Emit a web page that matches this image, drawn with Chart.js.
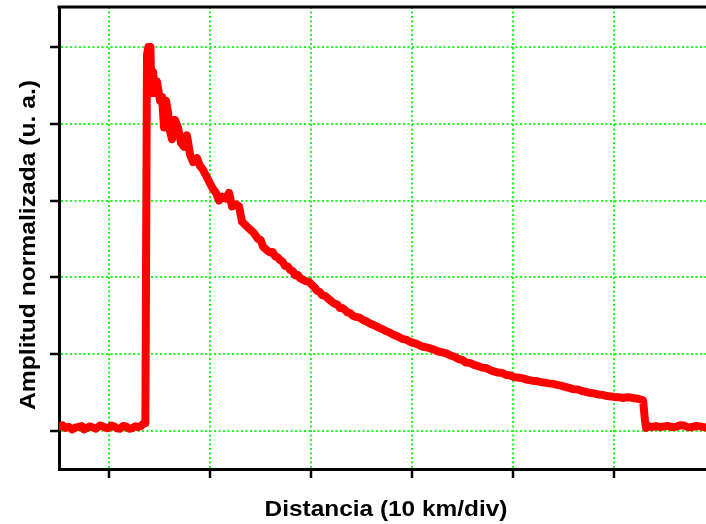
<!DOCTYPE html>
<html>
<head>
<meta charset="utf-8">
<script src="https://cdn.jsdelivr.net/npm/chart.js@4/dist/chart.umd.min.js"></script>
<style>
  html, body { margin: 0; padding: 0; background: #fff; }
  #wrap { width: 706px; height: 524px; }
</style>
</head>
<body>
<div id="wrap"><canvas id="trace" width="706" height="524"></canvas></div>
<script>
// distance in km (10 km per division), amplitude normalised to the peak
const distanceKm = [
  -4.95, -4.60, -4.36, -4.00, -3.66, -3.30, -3.07, -2.70, -2.48, -2.10,
  -1.88, -1.50, -1.29, -0.90, -0.69, -0.30, -0.10, 0.25, 0.50, 0.80,
  1.09, 1.40, 1.68, 2.00, 2.28, 2.60, 2.87, 3.15, 3.37, 3.60,
  3.76, 3.90, 4.10, 4.20, 4.36, 4.55, 4.75, 5.05, 5.25, 5.45,
  5.64, 5.84, 6.04, 6.24, 6.53, 6.83, 7.13, 7.43, 7.72, 8.02,
  8.32, 8.71, 9.01, 9.31, 9.70, 10.00, 10.30, 10.59, 10.89, 11.19,
  11.58, 11.88, 12.18, 12.57, 12.87, 13.17, 13.56, 13.96, 14.36, 14.75,
  15.00, 15.25, 15.64, 15.94, 16.20, 16.44, 16.70, 16.93, 17.20, 17.43,
  17.70, 17.92, 18.20, 18.42, 18.70, 18.91, 19.20, 19.50, 19.80, 20.10,
  20.35, 20.59, 20.85, 21.09, 21.40, 21.68, 22.00, 22.28, 22.60, 22.87,
  23.10, 23.37, 23.60, 23.86, 24.15, 24.46, 24.80, 25.15, 25.50, 25.84,
  26.20, 26.63, 27.00, 27.43, 27.80, 28.22, 28.60, 29.01, 29.40, 29.80,
  30.20, 30.59, 31.00, 31.39, 31.80, 32.18, 32.60, 32.97, 33.40, 33.76,
  34.15, 34.55, 34.95, 35.35, 35.75, 36.14, 36.55, 36.93, 37.30, 37.72,
  38.10, 38.51, 38.90, 39.31, 39.70, 40.10, 40.55, 40.99, 41.45, 41.88,
  42.25, 42.67, 43.10, 43.56, 43.95, 44.36, 44.75, 45.15, 45.55, 45.94,
  46.40, 46.83, 47.20, 47.62, 48.00, 48.42, 48.85, 49.31, 49.70, 50.10,
  50.50, 50.89, 51.30, 51.68, 52.00, 52.38, 52.87, 53.05, 53.17, 53.50,
  53.76, 54.15, 54.55, 54.95, 55.35, 55.75, 56.14, 56.55, 56.93, 57.30,
  57.72, 58.10, 58.51, 59.10
];
const amplitude = [
  0.012, 0.015, 0.008, 0.011, 0.004, 0.009, 0.010, 0.013, 0.004, 0.009,
  0.012, 0.008, 0.006, 0.014, 0.013, 0.008, 0.007, 0.014, 0.012, 0.007,
  0.006, 0.013, 0.012, 0.006, 0.007, 0.012, 0.010, 0.013, 0.018, 0.020,
  0.980, 1.000, 1.000, 0.880, 0.935, 0.880, 0.910, 0.860, 0.870, 0.790,
  0.860, 0.830, 0.780, 0.760, 0.810, 0.790, 0.750, 0.740, 0.770, 0.720,
  0.700, 0.710, 0.690, 0.680, 0.660, 0.645, 0.630, 0.620, 0.600, 0.610,
  0.605, 0.620, 0.585, 0.590, 0.585, 0.545, 0.535, 0.525, 0.515, 0.500,
  0.498, 0.480, 0.470, 0.465, 0.466, 0.455, 0.452, 0.445, 0.440, 0.430,
  0.428, 0.420, 0.416, 0.405, 0.406, 0.398, 0.394, 0.390, 0.388, 0.380,
  0.374, 0.365, 0.362, 0.354, 0.352, 0.345, 0.338, 0.332, 0.329, 0.320,
  0.320, 0.315, 0.309, 0.307, 0.300, 0.297, 0.295, 0.289, 0.285, 0.280,
  0.276, 0.270, 0.266, 0.260, 0.256, 0.250, 0.246, 0.240, 0.238, 0.232,
  0.229, 0.225, 0.220, 0.218, 0.215, 0.212, 0.207, 0.205, 0.202, 0.197,
  0.194, 0.188, 0.185, 0.178, 0.177, 0.172, 0.169, 0.165, 0.164, 0.159,
  0.155, 0.152, 0.151, 0.146, 0.145, 0.140, 0.139, 0.137, 0.133, 0.131,
  0.130, 0.128, 0.126, 0.124, 0.123, 0.120, 0.118, 0.115, 0.112, 0.109,
  0.108, 0.104, 0.102, 0.099, 0.098, 0.095, 0.094, 0.091, 0.090, 0.088,
  0.088, 0.086, 0.088, 0.087, 0.085, 0.084, 0.080, 0.030, 0.008, 0.012,
  0.010, 0.013, 0.010, 0.012, 0.013, 0.010, 0.011, 0.015, 0.014, 0.010,
  0.010, 0.013, 0.012, 0.009
];
const xTicks = [0, 10, 20, 30, 40, 50];
const yTicks = [0, 0.2, 0.4, 0.6, 0.8, 1.0];
const xTitle = 'Distancia (10 km/div)';
const yTitle = 'Amplitud normalizada (u. a.)';

const TITLE_FONT = 'bold 22px "Liberation Sans", Arial, sans-serif';

// axis titles drawn by hand: the original lettering is a bit wider than Arial
const axisTitles = {
  id: 'axisTitles',
  afterDraw(chart) {
    const ctx = chart.ctx;
    const area = chart.chartArea;
    ctx.save();
    ctx.fillStyle = '#000';
    ctx.font = TITLE_FONT;
    ctx.textAlign = 'center';
    ctx.textBaseline = 'alphabetic';
    ctx.translate(386, 516);
    ctx.scale(1.11, 1);
    ctx.fillText(xTitle, 0, 0);
    ctx.restore();

    ctx.save();
    ctx.fillStyle = '#000';
    ctx.font = TITLE_FONT;
    ctx.textAlign = 'center';
    ctx.textBaseline = 'alphabetic';
    ctx.translate(35, 245);
    ctx.rotate(-Math.PI / 2);
    ctx.scale(1.12, 1);
    ctx.fillText(yTitle, 0, 0);
    ctx.restore();

    // top frame line
    ctx.save();
    ctx.strokeStyle = '#000';
    ctx.lineWidth = 3;
    ctx.beginPath();
    ctx.moveTo(area.left - 1.5, area.top);
    ctx.lineTo(chart.width, area.top);
    ctx.stroke();
    ctx.restore();
  }
};

const gridOpts = {
  color: '#22f522',
  lineWidth: 2,
  tickColor: '#000',
  tickWidth: 2.5,
  tickLength: 9,
  tickBorderDash: []
};

new Chart(document.getElementById('trace'), {
  type: 'line',
  data: {
    datasets: [{
      data: distanceKm.map((x, i) => ({ x, y: amplitude[i] })),
      borderColor: '#ff0000',
      borderWidth: 8,
      pointRadius: 0,
      tension: 0,
      borderJoinStyle: 'round',
      borderCapStyle: 'round'
    }]
  },
  options: {
    responsive: false,
    animation: false,
    events: [],
    layout: { autoPadding: false, padding: { top: 7, right: 0, bottom: 0, left: 0 } },
    plugins: { legend: { display: false }, tooltip: { enabled: false } },
    scales: {
      x: {
        type: 'linear',
        min: -4.95,
        max: 59.1,
        afterBuildTicks: s => { s.ticks = xTicks.map(v => ({ value: v })); },
        afterFit: s => { s.height = 55; },
        ticks: { display: false },
        grid: gridOpts,
        border: { display: true, color: '#000', width: 3, dash: [2, 2.5] }
      },
      y: {
        type: 'linear',
        min: -0.099,
        max: 1.104,
        afterBuildTicks: s => { s.ticks = yTicks.map(v => ({ value: v })); },
        afterFit: s => { s.width = 59; },
        ticks: { display: false },
        grid: gridOpts,
        border: { display: true, color: '#000', width: 3, dash: [2, 2.5] }
      }
    }
  },
  plugins: [axisTitles]
});
</script>
</body>
</html>
